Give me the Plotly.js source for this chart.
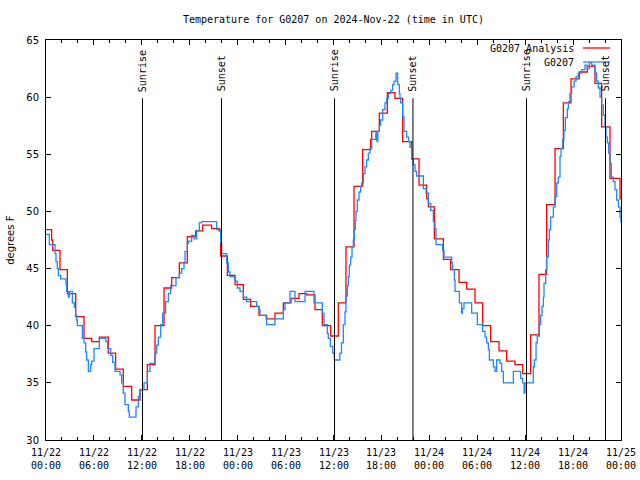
<!DOCTYPE html>
<html>
<head>
<meta charset="utf-8">
<script src="https://cdn.plot.ly/plotly-3.0.1.min.js"></script>
<style>html,body{margin:0;padding:0;background:#fff;}#chart{width:640px;height:480px;}</style>
</head>
<body>
<div id="chart"></div>
<script>
// Hours since 2024-11-22 00:00 UTC
const analysisHours = [0, 0.71, 0.84, 1.75, 2.67, 3.72, 4.76, 5.72, 6.68, 7.8,
  8.72, 9.68, 10.73, 11.77, 12.69, 13.65, 14.78, 15.74, 16.7, 17.7,
  18.74, 19.62, 20.74, 21.7, 21.87, 22.71, 23.67, 24.71, 25.63, 26.67,
  27.63, 28.67, 29.72, 30.68, 31.68, 32.64, 33.68, 34.6, 35.65, 36.6,
  37.56, 38.57, 39.65, 40.65, 40.78, 41.74, 42.74, 43.7, 44.66, 45.79,
  46.71, 47.67, 47.88, 48.63, 49.76, 50.67, 51.72, 52.68, 53.72, 54.68,
  55.68, 56.73, 57.69, 58.73, 59.69, 60.69, 61.73, 62.69, 63.74, 64.78,
  65.74, 66.78, 67.78, 68.74, 69.58, 70.62, 71.88, 72];
const analysisTemps = [48.4, 47.5, 46.6, 44.9, 42.8, 40.8, 38.9, 38.6, 39.0, 37.6,
  36.2, 34.7, 33.5, 34.4, 36.6, 40.0, 43.3, 44.2, 45.5, 47.8,
  48.3, 48.8, 48.5, 48.3, 46.1, 44.4, 43.6, 42.3, 41.7, 40.9,
  40.6, 41.1, 42.0, 42.4, 42.8, 42.7, 41.4, 40.0, 39.1, 42.0,
  46.9, 52.2, 55.4, 56.3, 57.0, 58.6, 60.4, 59.9, 56.1, 54.6,
  52.3, 51.1, 50.4, 47.6, 45.8, 44.9, 43.8, 43.2, 42.0, 40.0,
  38.6, 37.8, 36.9, 36.6, 35.8, 39.2, 44.5, 50.6, 55.5, 59.5,
  61.6, 62.2, 62.7, 61.2, 57.4, 52.9, 51.1, 51.1];

const obsHours = [0, 0.42, 1.13, 1.25, 1.42, 1.55, 1.84, 2.5, 2.59, 2.8,
  2.92, 3.3, 3.55, 3.72, 3.84, 3.92, 4.55, 4.76, 4.97, 5.09,
  5.3, 5.59, 5.72, 6.01, 6.68, 7.51, 7.72, 8.1, 8.35, 8.64,
  9.27, 9.47, 9.68, 9.89, 10.31, 10.43, 11.27, 11.56, 11.77, 12.27,
  12.69, 13.02, 13.65, 13.86, 14.07, 14.36, 14.61, 14.98, 15.32, 15.61,
  16.28, 16.7, 16.99, 17.28, 17.41, 17.7, 17.82, 18.24, 18.53, 18.87,
  19.2, 19.49, 21.37, 21.87, 22.0, 22.62, 22.83, 23.04, 23.67, 23.96,
  24.29, 24.71, 25.13, 26.38, 26.63, 26.8, 27.55, 27.63, 28.67, 29.72,
  29.93, 30.55, 31.18, 32.43, 33.56, 34.6, 34.81, 35.23, 35.35, 35.6,
  35.9, 36.1, 36.8, 37.0, 37.23, 37.44, 37.56, 37.73, 37.86, 37.98,
  38.15, 38.32, 38.48, 38.61, 38.73, 38.82, 38.98, 39.19, 39.4, 39.53,
  39.74, 39.94, 40.15, 40.36, 40.57, 40.78, 41.3, 41.45, 41.55, 41.74,
  41.9, 42.16, 42.45, 42.66, 42.87, 43.16, 43.41, 43.58, 43.83, 44.03,
  44.24, 44.33, 44.41, 44.66, 44.83, 45.16, 45.4, 45.58, 45.79, 46.0,
  46.2, 46.4, 47.25, 47.59, 47.88, 48.17, 48.5, 48.71, 48.84, 49.67,
  49.84, 50.8, 50.92, 51.13, 51.22, 51.76, 52.05, 52.15, 52.34, 53.3,
  54.01, 54.68, 54.97, 55.18, 55.39, 55.52, 56.02, 56.23, 56.43, 56.85,
  57.06, 57.27, 58.52, 59.44, 59.69, 59.86, 59.98, 61.02, 61.15, 61.36,
  61.52, 61.77, 61.94, 62.11, 62.28, 62.36, 62.57, 62.69, 62.9, 63.03,
  63.19, 63.53, 63.74, 63.95, 64.15, 64.36, 64.49, 64.7, 64.86, 65.03,
  65.28, 65.41, 65.61, 65.82, 66.12, 66.37, 66.66, 67.08, 67.49, 67.78,
  68.04, 68.33, 68.74, 68.95, 69.16, 69.37, 69.58, 69.79, 70.0, 70.12,
  70.29, 70.46, 70.62, 70.79, 71.04, 71.25, 71.46, 71.67, 71.88, 72];
const obsTemps = [48.0, 47.1, 46.3, 45.6, 45.0, 44.4, 44.1, 43.6, 43.0, 42.5,
  43.0, 42.0, 41.6, 40.9, 40.5, 40.0, 38.9, 38.5, 37.7, 37.0,
  36.0, 36.6, 36.9, 38.0, 38.9, 38.6, 38.0, 37.4, 36.8, 36.0,
  35.7, 35.0, 34.1, 33.1, 32.5, 32.0, 32.9, 33.8, 34.4, 35.0,
  36.0, 36.7, 37.6, 38.3, 39.0, 40.1, 41.1, 42.1, 42.8, 43.5,
  44.2, 44.6, 45.0, 45.5, 46.5, 47.2, 47.4, 47.9, 47.6, 48.3,
  49.0, 49.1, 48.4, 47.2, 46.3, 45.5, 44.7, 44.3, 43.9, 43.3,
  43.0, 42.5, 42.1, 41.7, 41.4, 40.9, 40.6, 40.1, 40.6, 41.4,
  42.0, 43.0, 42.1, 43.0, 42.0, 41.1, 40.1, 39.3, 38.9, 38.2,
  37.6, 37.0, 37.6, 38.5, 40.1, 41.2, 42.6, 43.5, 44.3, 45.3,
  46.0, 46.9, 47.5, 48.4, 49.2, 50.0, 51.0, 51.7, 52.2, 52.5,
  53.3, 53.9, 54.5, 55.1, 55.5, 56.3, 57.0, 56.1, 57.0, 57.5,
  58.0, 58.9, 59.5, 59.9, 60.3, 60.6, 61.1, 61.4, 62.1, 61.1,
  60.3, 59.9, 59.5, 58.3, 57.0, 56.5, 56.1, 55.6, 54.6, 54.1,
  53.5, 53.1, 52.0, 51.6, 50.7, 50.1, 49.1, 48.5, 47.1, 46.6,
  46.0, 45.5, 44.9, 44.0, 43.0, 42.0, 41.1, 41.5, 42.0, 41.1,
  40.1, 39.5, 39.0, 38.5, 37.9, 37.0, 36.4, 36.0, 37.0, 36.7,
  36.0, 35.0, 36.0, 35.4, 35.0, 34.1, 35.0, 36.4, 37.0, 38.5,
  39.1, 40.1, 40.9, 41.7, 42.5, 43.7, 44.9, 46.0, 47.5, 48.4,
  49.5, 50.4, 51.3, 52.5, 53.0, 54.8, 55.5, 56.3, 57.1, 58.2,
  59.0, 59.6, 60.3, 60.9, 61.4, 61.8, 62.1, 62.4, 62.8, 62.5,
  63.0, 62.8, 62.1, 61.4, 60.8, 60.0, 59.3, 58.4, 57.4, 56.5,
  56.0, 55.1, 54.2, 53.0, 52.6, 51.9, 51.0, 50.4, 49.5, 49.0];

const sunHours = [12.08, 21.98, 36.13, 45.95, 60.17, 70.06];
const sunLabels = ['Sunrise', 'Sunset', 'Sunrise', 'Sunset', 'Sunrise', 'Sunset'];

const tickHours = [0, 6, 12, 18, 24, 30, 36, 42, 48, 54, 60, 66, 72];
const tickLabels = ['11/22<br>00:00', '11/22<br>06:00', '11/22<br>12:00', '11/22<br>18:00',
  '11/23<br>00:00', '11/23<br>06:00', '11/23<br>12:00', '11/23<br>18:00',
  '11/24<br>00:00', '11/24<br>06:00', '11/24<br>12:00', '11/24<br>18:00', '11/25<br>00:00'];

const seriesNames = ['G0207 Analysis', 'G0207'];
const seriesColors = ['#ff0000', '#1e88ff'];

const MONO = 'DejaVu Sans Mono, monospace';
const SANS = 'DejaVu Sans, sans-serif';

const traces = [
  {x: analysisHours, y: analysisTemps, type: 'scatter', mode: 'lines', name: seriesNames[0],
   line: {shape: 'hv', color: seriesColors[0], width: 1.3}},
  {x: obsHours, y: obsTemps, type: 'scatter', mode: 'lines', name: seriesNames[1],
   line: {shape: 'hv', color: seriesColors[1], width: 1.3}}
];

const shapes = sunHours.map(h => ({type: 'line', xref: 'x', yref: 'y', x0: h, x1: h, y0: 30, y1: 59.9,
  line: {color: '#000', width: 1}}));
const annotations = sunHours.map((h, i) => ({xref: 'x', yref: 'y', x: h, y: 60.3, text: sunLabels[i],
  textangle: -90, showarrow: false, xanchor: 'center', yanchor: 'bottom',
  font: {family: MONO, size: 10, color: '#000'}}));

// x tick labels placed close to the axis, like gnuplot
tickHours.forEach((h, i) => {
  annotations.push({xref: 'x', yref: 'paper', x: h, y: 0, yshift: -6, text: tickLabels[i], showarrow: false,
    xanchor: 'center', yanchor: 'top', borderpad: 0, align: 'center',
    font: {family: MONO, size: 10, color: '#000'}});
});

// legend (gnuplot style: text then sample)
const legendY = [0.978, 0.943];
seriesNames.forEach((n, i) => {
  annotations.push({xref: 'paper', yref: 'paper', x: 0.921, y: legendY[i], text: n, showarrow: false,
    xanchor: 'right', yanchor: 'middle', font: {family: MONO, size: 10, color: '#000'}});
  shapes.push({type: 'line', xref: 'paper', yref: 'paper', x0: 0.934, x1: 0.981, y0: legendY[i] + 0.002, y1: legendY[i] + 0.002,
    line: {color: seriesColors[i], width: 1.3}});
});

// y-axis title as annotation (placed like gnuplot)
annotations.push({xref: 'paper', yref: 'paper', x: -0.063, y: 0.5, text: 'degrees F', textangle: -90,
  showarrow: false, xanchor: 'center', yanchor: 'middle', font: {family: SANS, size: 10, color: '#000'}});

const layout = {
  width: 640, height: 480,
  margin: {l: 46, r: 19, t: 40, b: 40, pad: 0},
  paper_bgcolor: '#fff', plot_bgcolor: '#fff',
  showlegend: false,
  title: {text: 'Temperature for G0207 on 2024-Nov-22 (time in UTC)', xref: 'container', x: 0.521, xanchor: 'center',
    yref: 'container', y: 0.96, yanchor: 'middle', font: {family: MONO, size: 10, color: '#000'}},
  xaxis: {range: [0, 72], tickmode: 'array', tickvals: tickHours, ticktext: tickLabels, showticklabels: false,
    ticks: 'inside', ticklen: 5, tickcolor: '#000', tickwidth: 1,
    showline: true, mirror: 'allticks', linecolor: '#000', linewidth: 1,
    showgrid: false, zeroline: false,
    minor: {tickmode: 'linear', tick0: 0, dtick: 2, ticks: 'inside', ticklen: 3, tickcolor: '#000', showgrid: false}},
  yaxis: {range: [30, 65], tickmode: 'linear', tick0: 30, dtick: 5,
    ticks: 'inside', ticklen: 5, tickcolor: '#000', tickwidth: 1, ticklabelstandoff: 4,
    showline: true, mirror: 'allticks', linecolor: '#000', linewidth: 1,
    showgrid: false, zeroline: false,
    tickfont: {family: SANS, size: 10, color: '#000'}},
  shapes: shapes,
  annotations: annotations
};

Plotly.newPlot('chart', traces, layout, {staticPlot: true, displayModeBar: false});
</script>
</body>
</html>
